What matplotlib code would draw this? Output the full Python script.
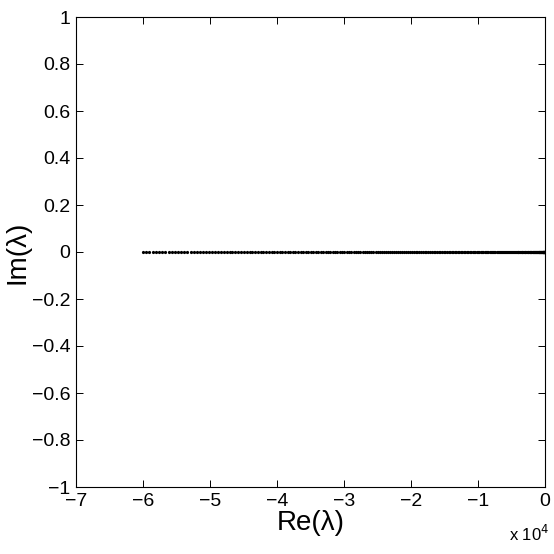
import matplotlib
matplotlib.use("Agg")
import matplotlib.pyplot as plt
import numpy as np

re_vals = [
    1, 4, 9, 16, 25, 36, 49, 64, 81, 100,
    121, 144, 169, 196, 225, 256, 289, 324, 361, 400,
    441, 484, 529, 576, 625, 676, 729, 784, 841, 900,
    961, 1024, 1089, 1156, 1225, 1296, 1369, 1444, 1521, 1600,
    1681, 1764, 1849, 1936, 2025, 2116, 2209, 2304, 2401, 2500,
    2601, 2704, 2809, 2916, 3025, 3136, 3249, 3364, 3481, 3600,
    3721, 3844, 3969, 4096, 4225, 4356, 4489, 4624, 4761, 4900,
    5041, 5184, 5329, 5476, 5625, 5776, 5929, 6084, 6241, 6400,
    6561, 6724, 6889, 7056, 7225, 7396, 7569, 7744, 7921, 8100,
    8281, 8464, 8649, 8836, 9025, 9216, 9409, 9604, 9801, 10000,
    10201, 10404, 10609, 10816, 11025, 11236, 11449, 11664, 11881, 12100,
    12321, 12544, 12769, 12996, 13225, 13456, 13689, 13924, 14161, 14400,
    14641, 14884, 15129, 15376, 15625, 15876, 16129, 16384, 16641, 16900,
    17161, 17424, 17689, 17956, 18225, 18496, 18769, 19044, 19321, 19600,
    19881, 20164, 20449, 20736, 21025, 21316, 21609, 21904, 22201, 22500,
    22801, 23104, 23409, 23716, 24025, 24336, 24649, 24964, 25281, 25600,
    25921, 26244, 26569, 26896, 27225, 27556, 27889, 28224, 28561, 28900,
    29241, 29584, 29929, 30276, 30625, 30976, 31329, 31684, 32041, 32400,
    32761, 33124, 33489, 33856, 34225, 34596, 34969, 35344, 35721, 36100,
    36481, 36864, 37249, 37636, 38025, 38416, 38809, 39204, 39601, 40000,
    40401, 40804, 41209, 41616, 42025, 42436, 42849, 43264, 43681, 44100,
    44521, 44944, 45369, 45796, 46225, 46656, 47089, 47524, 47961, 48400,
    48841, 49284, 49729, 50176, 50625, 51076, 51529, 51984, 52441, 52900,
    53361, 53824, 54289, 54756, 55225, 55696, 56169, 56644, 57121, 57600,
    58081, 58564, 59049, 59536, 60025,
]
re_vals = [-v for v in re_vals]
im_vals = [0.0] * len(re_vals)

x_ticks = [-70000, -60000, -50000, -40000, -30000, -20000, -10000, 0]
x_tick_labels = ["\u22127", "\u22126", "\u22125", "\u22124", "\u22123", "\u22122", "\u22121", "0"]
y_ticks = [-1, -0.8, -0.6, -0.4, -0.2, 0, 0.2, 0.4, 0.6, 0.8, 1]
y_tick_labels = ["\u22121", "\u22120.8", "\u22120.6", "\u22120.4", "\u22120.2", "0",
                 "0.2", "0.4", "0.6", "0.8", "1"]

fam = ["Liberation Sans", "DejaVu Sans"]
plt.rcParams["font.family"] = fam

fig = plt.figure(figsize=(5.54, 5.54), dpi=100)
ax = fig.add_axes([76 / 554, 67 / 554, 469 / 554, 470 / 554])
ax.plot(re_vals, im_vals, linestyle="none", marker="o", markersize=2.3,
        color="black", markeredgewidth=0, snap=False)

ax.set_xlim(-70000, 0)
ax.set_ylim(-1, 1)
ax.set_xticks(x_ticks)
ax.set_xticklabels(x_tick_labels)
ax.set_yticks(y_ticks)
ax.set_yticklabels(y_tick_labels)
ax.tick_params(direction="in", length=5, width=0.7, labelsize=14, top=True, right=True,
               pad=4)
for s in ax.spines.values():
    s.set_linewidth(0.8)

ax.set_xlabel("Re(\u03bb)", fontsize=20, labelpad=0)
ax.set_ylabel("Im(\u03bb)", fontsize=20, labelpad=1)
fig.text(549 / 554, 10 / 554, "x 10$^{4}$", fontsize=12, ha="right", va="bottom")

fig.savefig("out.png", dpi=100)
